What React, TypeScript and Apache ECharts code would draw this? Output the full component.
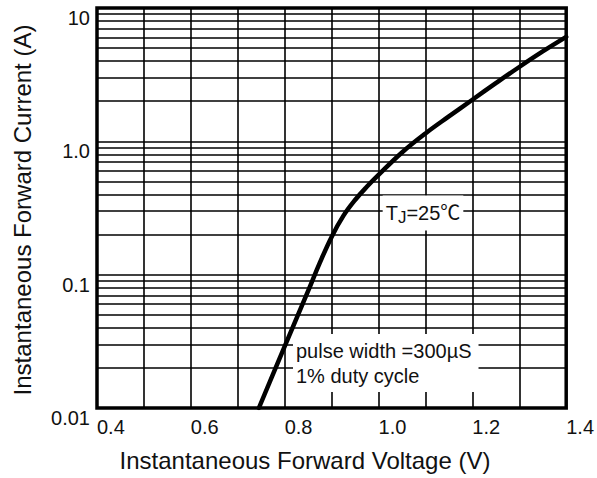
import React, { useEffect, useRef } from "react";
import * as echarts from "echarts";

const voltage = [0.745, 0.8, 0.85, 0.875, 0.9, 0.925, 0.95, 0.975, 1.0, 1.05, 1.1, 1.15, 1.2, 1.25, 1.3, 1.35, 1.4];
const current = [0.01, 0.029, 0.0755, 0.123, 0.192, 0.276, 0.363, 0.456, 0.56, 0.825, 1.146, 1.538, 2.05, 2.73, 3.61, 4.72, 6.07];
const minorCurrents = [
  0.02, 0.03, 0.04, 0.05, 0.06, 0.07, 0.08, 0.09,
  0.2, 0.3, 0.4, 0.5, 0.6, 0.7, 0.8, 0.9,
  2, 3, 4, 5, 6, 7, 8, 9,
];
const yTickLabels = ["0.01", "0.1", "1.0", "10"];
const xTitle = "Instantaneous Forward Voltage (V)";
const yTitle = "Instantaneous Forward Current (A)";
const noteLines = ["pulse width =300µS", "1% duty cycle"];

const FONT = "'Liberation Sans', Arial, 'Noto Sans CJK SC', sans-serif";

export default function App() {
  const ref = useRef<HTMLDivElement>(null);
  useEffect(() => {
    if (!ref.current) return;
    const chart = echarts.init(ref.current, null, { renderer: "svg" });
    chart.setOption({
      animation: false,
      backgroundColor: "#fff",
      textStyle: { fontFamily: FONT },
      grid: {
        left: 97,
        right: 30,
        top: 8,
        bottom: 70,
        show: true,
        borderColor: "#000",
        borderWidth: 3.5,
        backgroundColor: "transparent",
        containLabel: false,
      },
      xAxis: {
        type: "value",
        min: 0.4,
        max: 1.4,
        interval: 0.1,
        axisLine: { show: false },
        axisTick: { show: false },
        splitLine: { show: true, lineStyle: { color: "#000", width: 1.6 } },
        axisLabel: {
          align: "left",
          margin: 9,
          fontSize: 20,
          color: "#111",
          fontFamily: FONT,
          formatter: (v: number) => {
            const k = Math.round(v * 10);
            return k % 2 === 0 ? (k / 10).toFixed(1) : "";
          },
        },
      },
      yAxis: {
        type: "log",
        logBase: 10,
        min: 0.01,
        max: 10,
        axisLine: { show: false },
        axisTick: { show: false },
        splitLine: { show: true, lineStyle: { color: "#000", width: 1.6 } },
        axisLabel: {
          margin: 7,
          fontSize: 20,
          color: "#111",
          fontFamily: FONT,
          verticalAlign: "top",
          formatter: (v: number) => {
            const e = Math.round(Math.log10(v));
            return yTickLabels[e + 2] ?? "";
          },
        },
      },
      series: [
        {
          type: "line",
          data: [],
          silent: true,
          markLine: {
            silent: true,
            z: 1,
            symbol: ["none", "none"],
            label: { show: false },
            emphasis: { disabled: true },
            lineStyle: { color: "#000", width: 1.6, type: "solid" },
            data: minorCurrents.map((v) => ({ yAxis: v })),
          },
        },
        {
          type: "line",
          data: voltage.map((v, i) => [v, current[i]]),
          smooth: 0.4,
          symbol: "none",
          z: 30,
          clip: true,
          lineStyle: { color: "#000", width: 4.5, join: "round", cap: "round" },
        },
      ],
      graphic: [
        {
          type: "text",
          x: 305,
          y: 460,
          z: 40,
          style: {
            text: xTitle,
            fontSize: 24,
            fontFamily: FONT,
            fill: "#111",
            align: "center",
            verticalAlign: "middle",
          },
        },
        {
          type: "text",
          x: 22,
          y: 210,
          z: 40,
          rotation: Math.PI / 2,
          style: {
            text: yTitle,
            fontSize: 24,
            fontFamily: FONT,
            fill: "#111",
            align: "center",
            verticalAlign: "middle",
          },
        },
        {
          type: "text",
          x: 423,
          y: 213,
          z: 20,
          style: {
            text: "{a|T}{b|J}{a|=25℃}",
            align: "center",
            verticalAlign: "middle",
            backgroundColor: "#fff",
            padding: [5, 3, 5, 3],
            rich: {
              a: { fontSize: 20, fontFamily: FONT, fill: "#111" },
              b: { fontSize: 17, fontFamily: FONT, fill: "#111", padding: [8, 0, 0, 0] },
            },
          },
        },
        {
          type: "text",
          x: 293,
          y: 334,
          z: 20,
          style: {
            text: noteLines.join("\n"),
            fontSize: 20,
            lineHeight: 25,
            fontFamily: FONT,
            fill: "#111",
            align: "left",
            verticalAlign: "top",
            backgroundColor: "#fff",
            padding: [4, 7, 4, 3],
          },
        },
      ],
    });
    return () => chart.dispose();
  }, []);
  return (
    <div
      ref={ref}
      style={{ position: "fixed", left: 0, top: 0, width: 597, height: 478 }}
    />
  );
}
